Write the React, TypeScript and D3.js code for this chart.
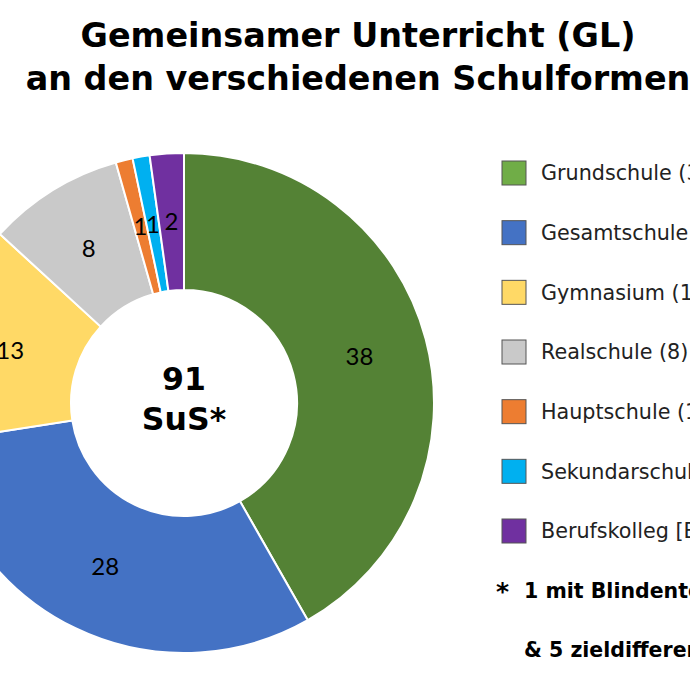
import { useEffect } from "react";
import * as d3 from "d3";

const categories = [
  "Grundschule (38)",
  "Gesamtschule (28)",
  "Gymnasium (13)",
  "Realschule (8)",
  "Hauptschule (1)",
  "Sekundarschule (1)",
  "Berufskolleg [BK] (2)",
];
const values = [38, 28, 13, 8, 1, 1, 2];
const sliceColors = ["#548235", "#4472C4", "#FFD966", "#C9C9C9", "#ED7D31", "#00B0F0", "#7030A0"];
const legendColors = ["#70AD47", "#4472C4", "#FFD966", "#C9C9C9", "#ED7D31", "#00B0F0", "#7030A0"];
const titleLines = ["Gemeinsamer Unterricht (GL)", "an den verschiedenen Schulformen"];
const centerLines = ["91", "SuS*"];
const footnotes = ["1 mit Blindentechnik", "& 5 zieldifferent"];

const W = 690;
const H = 690;
const cx = 184;
const cy = 403;
const outerR = 250;
const innerR = 113;

export default function App() {
  useEffect(() => {
    document.body.style.margin = "0";
  }, []);

  const pie = d3.pie<number>().sort(null).value((d) => d);
  const arcs = pie(values);
  const arc = d3.arc<d3.PieArcDatum<number>>().innerRadius(innerR).outerRadius(outerR);

  const legendY = d3.scalePoint<string>().domain(categories).range([173, 531]);

  return (
    <svg width={W} height={H} style={{ display: "block", background: "#fff" }}>
      <g fontFamily="DejaVu Sans, Verdana, sans-serif" fontWeight="bold" fill="#000" textAnchor="middle">
        {titleLines.map((t, i) => (
          <text key={t} x={358} y={47 + i * 43} fontSize={33.4}>
            {t}
          </text>
        ))}
      </g>

      <g transform={`translate(${cx},${cy})`}>
        {arcs.map((a, i) => (
          <path key={i} d={arc(a) ?? ""} fill={sliceColors[i]} stroke="#fff" strokeWidth={2} />
        ))}
        {arcs.map((a, i) => {
          const [lx, ly] = arc.centroid(a);
          return (
            <text
              key={"l" + i}
              x={lx}
              y={ly}
              dy="0.35em"
              textAnchor="middle"
              fontFamily="Lato, Open Sans, sans-serif"
              fontSize={24}
              fill="#000"
            >
              {values[i]}
            </text>
          );
        })}
        {centerLines.map((t, i) => (
          <text
            key={t}
            x={0}
            y={-13 + i * 40}
            textAnchor="middle"
            fontFamily="DejaVu Sans, Verdana, sans-serif"
            fontWeight="bold"
            fontSize={31.5}
            fill="#000"
          >
            {t}
          </text>
        ))}
      </g>

      <g fontFamily="DejaVu Sans, Verdana, sans-serif" fontSize={20.7} fill="#222">
        {categories.map((c, i) => {
          const y = legendY(c) ?? 0;
          return (
            <g key={c}>
              <rect
                x={502}
                y={y - 12}
                width={24}
                height={24}
                fill={legendColors[i]}
                stroke="#555"
                strokeWidth={1}
              />
              <text x={541} y={y} dy="0.35em">
                {c}
              </text>
            </g>
          );
        })}
      </g>

      <g fontFamily="DejaVu Sans, Verdana, sans-serif" fontWeight="bold" fontSize={20.5} fill="#000">
        <text x={496} y={600} fontSize={25}>
          *
        </text>
        {footnotes.map((t, i) => (
          <text key={t} x={524} y={598 + i * 59}>
            {t}
          </text>
        ))}
      </g>
    </svg>
  );
}
